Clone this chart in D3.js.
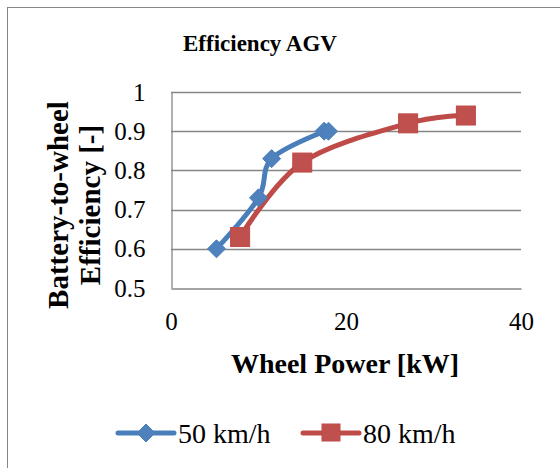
<!DOCTYPE html>
<html><head><meta charset="utf-8">
<script src="https://cdn.jsdelivr.net/npm/d3@7"></script>
<style>body{margin:0;background:#fff;} svg{display:block;} svg text{font-family:"Liberation Serif","Times New Roman",serif;}</style>
</head><body>
<svg id="c" width="560" height="468"></svg>
<script>
const title = "Efficiency AGV";
const xTitle = "Wheel Power [kW]";
const yTitleLines = ["Battery-to-wheel", "Efficiency [-]"];
const xTicks = [0, 20, 40];
const yTicks = [0.5, 0.6, 0.7, 0.8, 0.9, 1];
const seriesNames = ["50 km/h", "80 km/h"];
const x50 = [5.2, 10.0, 11.5, 17.5, 18.0];
const y50 = [0.60, 0.73, 0.83, 0.90, 0.90];
const x80 = [7.9, 15.0, 27.1, 33.7];
const y80 = [0.63, 0.82, 0.92, 0.94];

const blue = "#4A7EBB", blueFill = "#4F81BD";
const red = "#BE4B48", redFill = "#C0504D";
const grid = "#868686";

const svg = d3.select("#c");
svg.append("rect").attr("x", 7.5).attr("y", 7.5).attr("width", 600).attr("height", 500)
  .attr("fill", "#fff").attr("stroke", "#868686").attr("stroke-width", 1);

const L = 171, R = 521, T = 92, B = 288;
const x = d3.scaleLinear().domain([0, 40]).range([L, R]);
const y = d3.scaleLinear().domain([0.5, 1]).range([B, T]);

// gridlines
svg.append("g").selectAll("line").data(yTicks.filter(d => d > 0.5)).join("line")
  .attr("x1", L).attr("x2", R).attr("y1", d => Math.round(y(d)) + 0.5).attr("y2", d => Math.round(y(d)) + 0.5)
  .attr("stroke", grid).attr("stroke-width", 1.3);

// axes
const yAxis = svg.append("g").attr("transform", `translate(${L + 0.5},0)`)
  .call(d3.axisLeft(y).tickValues(yTicks).tickSize(0).tickPadding(26).tickFormat(d => d === 1 ? "1" : d3.format(".1f")(d)));
const xAxis = svg.append("g").attr("transform", `translate(0,${B + 0.5})`)
  .call(d3.axisBottom(x).tickValues(xTicks).tickSize(0).tickPadding(24).tickFormat(d3.format("d")));
[xAxis, yAxis].forEach(a => {
  a.attr("font-family", null).attr("font-size", null);
  a.select(".domain").attr("stroke", grid).attr("stroke-width", 1.3);
  a.selectAll("text").style("font-size", "25px").attr("fill", "#000");
});

// lines
const line = d3.line().x(d => x(d[0])).y(d => y(d[1])).curve(d3.curveCatmullRom.alpha(0));
const d50 = x50.map((v, i) => [v, y50[i]]);
const d80 = x80.map((v, i) => [v, y80[i]]);
svg.append("path").datum(d50).attr("d", line).attr("fill", "none").attr("stroke", blue)
  .attr("stroke-width", 5).attr("stroke-linejoin", "round").attr("stroke-linecap", "round");
svg.append("path").datum(d80).attr("d", line).attr("fill", "none").attr("stroke", red)
  .attr("stroke-width", 5).attr("stroke-linejoin", "round").attr("stroke-linecap", "round");

const diamond = (cx, cy, s) => `M${cx},${cy - s}L${cx + s},${cy}L${cx},${cy + s}L${cx - s},${cy}Z`;
svg.append("g").selectAll("path").data(d50).join("path")
  .attr("d", d => diamond(x(d[0]), y(d[1]), 9)).attr("fill", blueFill).attr("stroke", blue).attr("stroke-width", 1);
svg.append("g").selectAll("rect").data(d80).join("rect")
  .attr("x", d => x(d[0]) - 9.5).attr("y", d => y(d[1]) - 9.5).attr("width", 19).attr("height", 19)
  .attr("fill", redFill).attr("stroke", red).attr("stroke-width", 1);

// titles
svg.append("text").attr("x", 260).attr("y", 51).attr("text-anchor", "middle")
  .style("font-weight", "bold").style("font-size", "23px").text(title);
svg.append("text").attr("x", 345).attr("y", 373).attr("text-anchor", "middle")
  .style("font-weight", "bold").style("font-size", "28px").text(xTitle);
const yt = svg.append("text").attr("transform", "translate(0,205) rotate(-90)").attr("text-anchor", "middle")
  .style("font-weight", "bold").style("font-size", "29px");
yTitleLines.forEach((t, i) => yt.append("tspan").attr("x", 0).attr("y", 68 + i * 32).text(t));

// legend
const legY = 433;
const leg = [
  {name: seriesNames[0], x1: 118, x2: 174, stroke: blue, fill: blueFill, shape: "d", tx: 178},
  {name: seriesNames[1], x1: 303, x2: 359, stroke: red, fill: redFill, shape: "s", tx: 363}
];
leg.forEach(l => {
  svg.append("line").attr("x1", l.x1).attr("x2", l.x2).attr("y1", legY).attr("y2", legY)
    .attr("stroke", l.stroke).attr("stroke-width", 5).attr("stroke-linecap", "round");
  const cx = (l.x1 + l.x2) / 2;
  if (l.shape === "d") svg.append("path").attr("d", diamond(cx, legY, 9)).attr("fill", l.fill).attr("stroke", l.stroke);
  else svg.append("rect").attr("x", cx - 9).attr("y", legY - 9).attr("width", 18).attr("height", 17).attr("fill", l.fill).attr("stroke", l.stroke);
  svg.append("text").attr("x", l.tx).attr("y", 443).style("font-size", "28px").text(l.name);
});
</script>
</body></html>
